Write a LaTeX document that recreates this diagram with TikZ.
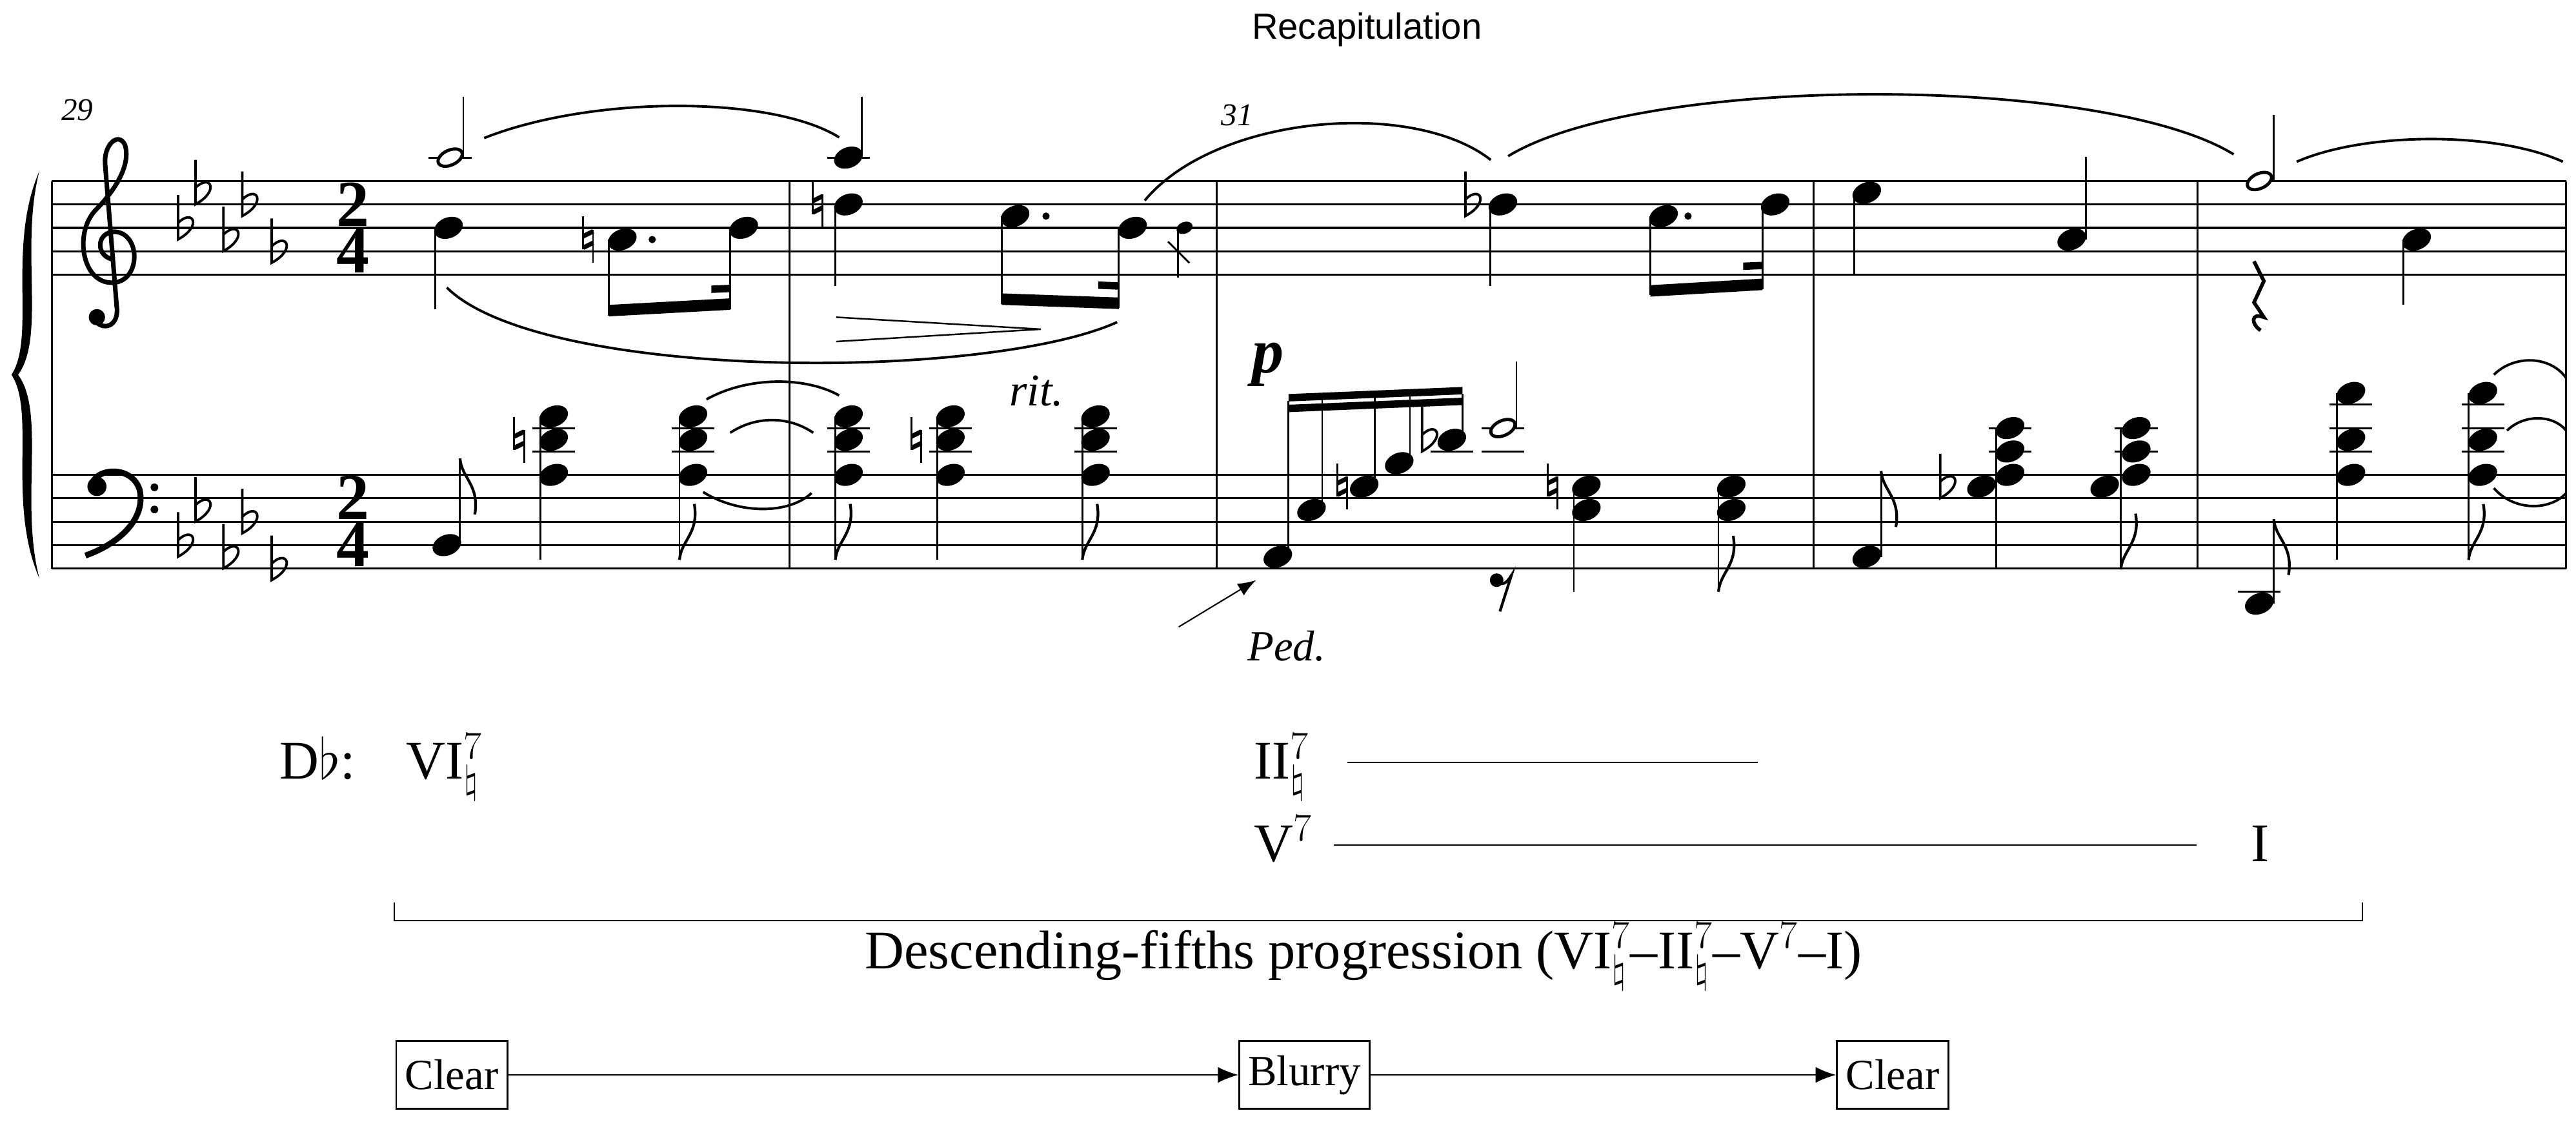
\documentclass[tikz,border=0pt]{standalone}
\usepackage{fontspec}
\setmainfont{Liberation Serif}
\newfontfamily\sansfont{Liberation Sans}
\usetikzlibrary{arrows.meta}
\tikzstyle{staffLine}=[line width=0.9pt]
\tikzstyle{stem}=[line width=0.8pt]
\tikzstyle{slur}=[line width=1.1pt]
\tikzstyle{figText}=[font=\fontsize{24}{28}\selectfont, inner sep=0pt]
\tikzstyle{timeSig}=[inner sep=0pt, align=center, font=\bfseries\fontsize{29}{20.7}\selectfont]
\tikzstyle{stateBox}=[draw, line width=0.7pt, font=\fontsize{19}{22}\selectfont, inner sep=4pt, minimum height=1.05cm]
\tikzstyle{stateTransition}=[-{Latex[length=9pt,width=7pt]}, line width=0.6pt]
\newcommand\ty[1]{167.1-7.12*(#1)}
\newcommand\by[1]{345.9-7.12*(#1)}
\newcommand\nh[2]{\fill[rotate around={22:(#1,{#2})}] (#1,{#2}) ellipse [x radius=0.23cm, y radius=0.16cm];}
\newcommand\hn[2]{\filldraw[fill=white,line width=1.4pt,rotate around={25:(#1,{#2})}] (#1,{#2}) ellipse [x radius=0.2cm, y radius=0.115cm];}
\newcommand\ldg{}
\renewcommand\ldg[2]{\draw[line width=0.9pt] (#1-13,{#2}) -- (#1+13,{#2});}
\newcommand\flt[2]{\draw[line width=1.1pt] (#1-4,{#2-20}) -- (#1-4,{#2+7}) .. controls (#1+11,{#2-1}) and (#1+5,{#2-12}) .. (#1-4,{#2-3});}
\newcommand\ntl[2]{\draw[line width=0.8pt] (#1-3,{#2-14}) -- (#1-3,{#2+6}) (#1+3,{#2-6}) -- (#1+3,{#2+14});
  \draw[line width=2pt] (#1-3,{#2-2}) -- (#1+3,{#2-5}) (#1-3,{#2+5}) -- (#1+3,{#2+2});}
\newcommand\flagUp[2]{\draw[line width=1.2pt] (#1,#2) .. controls (#1+1,#2+12) and (#1+12,#2+16) .. (#1+9,#2+34);}
\newcommand\flagDn[2]{\draw[line width=1.2pt] (#1,#2) .. controls (#1+1,#2-12) and (#1+12,#2-16) .. (#1+9,#2-34);}
\newcommand\beam[5]{\fill (#1,#2-#5/2) -- (#3,#4-#5/2) -- (#3,#4+#5/2) -- (#1,#2+#5/2) -- cycle;}

\begin{document}
\begin{tikzpicture}[x=0.02546cm, y=-0.02546cm]
	\useasboundingbox (0,0) rectangle (1568,682.6);
	% staves and barlines
	\foreach \p in {0,2,...,8} {
		\draw[staffLine] (31.6,{\ty{\p}}) -- (1562,{\ty{\p}});
		\draw[staffLine] (31.6,{\by{\p}}) -- (1562,{\by{\p}});
	}
	\foreach \x in {31.6,480.5,740.5,1104,1337.6,1562}
		\draw[staffLine] (\x,110.2) -- (\x,345.9);
	\fill (24,104) .. controls (4,150) and (22,205) .. (7,228) .. controls (22,251) and (4,306) .. (24,352)
		.. controls (12,306) and (28,251) .. (11,228) .. controls (28,205) and (12,150) .. (24,104);

	% clefs, key and time
	\fill (59,193) circle (3.6pt);
	\draw[line width=2pt] (57,194) .. controls (62,202) and (73,199) .. (71,186) -- (64,100)
		.. controls (63,88) and (72,80) .. (76,88) .. controls (80,100) and (70,116) .. (58,128)
		.. controls (45,142) and (50,172) .. (68,172) .. controls (86,172) and (86,142) .. (70,141)
		.. controls (58,141) and (58,157) .. (70,158);
	\fill (59,296) circle (4.2pt);
	\draw[line width=2.6pt] (56,296) .. controls (56,285) and (80,282) .. (85,298) .. controls (89,316) and (72,331) .. (52,338);
	\fill (94,296.5) circle (1.7pt) (94,310) circle (1.7pt);
	\foreach \x/\p in {112.4/4,123/7,140/3,151.5/6,169.4/2} \flt{\x}{\ty{\p}};
	\foreach \x/\p in {112.4/2,123/5,140/1,151.5/4,169.4/0} \flt{\x}{\by{\p}};
	\node[timeSig] (trebleTime) at (215,138.6) {2\\4};
	\node[timeSig] (bassTime) at (215,317.2) {2\\4};

	% treble, bars 29-30
	\nh{273}{\ty{4}} \draw[stem] (265,{\ty{4}}) -- (265,188);
	\ldg{274}{\ty{10}} \hn{274}{\ty{10}} \draw[stem] (282,{\ty{10}}) -- (282,59);
	\ntl{358}{\ty{3}} \nh{378.8}{\ty{3}} \fill (397,{\ty{3}}) circle (1.6pt);
	\draw[stem] (370.6,{\ty{3}}) -- (370.6,192);
	\nh{452.7}{\ty{4}} \draw[stem] (444.5,{\ty{4}}) -- (444.5,188);
	\beam{370.6}{189}{444.5}{185}{7} \beam{433}{176}{444.5}{175.5}{4.5}
	\ntl{497.6}{\ty{6}} \nh{516.4}{\ty{6}} \draw[stem] (508.5,{\ty{6}}) -- (508.5,174);
	\ldg{516.4}{\ty{10}} \nh{516.4}{\ty{10}} \draw[stem] (524.5,{\ty{10}}) -- (524.5,59);
	\nh{617.9}{\ty{5}} \fill (636.7,{\ty{5}}) circle (1.6pt);
	\draw[stem] (609.7,{\ty{5}}) -- (609.7,185);
	\nh{689.4}{\ty{4}} \draw[stem] (681,{\ty{4}}) -- (681,187.4);
	\beam{609.7}{182}{681}{184.5}{7} \beam{668.5}{173.5}{681}{174}{4.5}
	\fill[rotate around={22:(721,{\ty{4}})}] (721,{\ty{4}}) ellipse [x radius=0.13cm, y radius=0.09cm];
	\draw[stem] (717,{\ty{4}}) -- (717,169);
	\draw[stem] (711,147) -- (724,160);
	% treble, bars 31-33
	\flt{896}{\ty{6}} \nh{914.8}{\ty{6}} \draw[stem] (907,{\ty{6}}) -- (907,174);
	\nh{1012.6}{\ty{5}} \fill (1027.5,{\ty{5}}) circle (1.6pt);
	\draw[stem] (1004.6,{\ty{5}}) -- (1004.6,179.5);
	\nh{1080.5}{\ty{6}} \draw[stem] (1072.8,{\ty{6}}) -- (1072.8,176);
	\beam{1004.6}{177}{1072.8}{173}{7} \beam{1061}{162}{1072.8}{161.5}{4.5}
	\nh{1136.3}{\ty{7}} \draw[stem] (1128.6,{\ty{7}}) -- (1128.6,166.5);
	\nh{1261}{\ty{3}} \draw[stem] (1269.6,{\ty{3}}) -- (1269.6,95.4);
	\hn{1375.3}{\ty{8}} \draw[stem] (1384,{\ty{8}}) -- (1384,69.8);
	\draw[line width=1.6pt] (1372,159) -- (1378,171) -- (1372,184) -- (1378,193) .. controls (1370,190) and (1370,197) .. (1376,201);
	\nh{1471}{\ty{3}} \draw[stem] (1462.8,{\ty{3}}) -- (1462.8,185.2);
	% treble slurs
	\draw[slur] (294.7,84) .. controls (360,58) and (470,58) .. (510.8,83.6);
	\draw[slur] (272,175) .. controls (330,232) and (600,232) .. (680,196);
	\draw[slur] (696.8,122) .. controls (740,70) and (860,60) .. (907.4,97.3);
	\draw[slur] (918,95) .. controls (1000,45) and (1280,45) .. (1359.6,93.9);
	\draw[slur] (1398,98.4) .. controls (1440,80) and (1520,80) .. (1560,98.4);
	\draw[line width=0.7pt] (509,193) -- (633.6,200.3) -- (509,207.8);

	% bass, bars 29-30
	\nh{272}{\by{2}} \draw[stem] (280,{\by{2}}) -- (280,279); \flagUp{280}{279}
	\foreach \x/\s/\f in {337/329/0,421.8/413.6/1,516.5/508.5/1,578.5/570.5/0,666.8/658.8/1} {
		\ldg{\x}{\by{10}} \ldg{\x}{\by{12}}
		\nh{\x}{\by{8}} \nh{\x}{\by{11}} \nh{\x}{\by{13}}
		\draw[stem] (\s,{\by{13}}) -- (\s,340.6);
		\ifnum\f=1 \flagDn{\s}{340.6} \fi
	}
	\ntl{316}{\by{11}} \ntl{557.8}{\by{11}}
	\draw[slur] (430,243) .. controls (455,229) and (490,229) .. (510.8,240.6);
	\draw[slur] (444.5,263.3) .. controls (460,253) and (480,253) .. (495,263.3);
	\draw[slur] (428,299.4) .. controls (450,313) and (480,313) .. (494,300);
	% bass, bar 31
	\foreach \x/\p in {777.8/1,798.3/5,830.4/7,851.7/9,883.7/11} {
		\nh{\x}{\by{\p}}
		\draw[stem] (\x+6.5,{\by{\p}}) -- (\x+6.5,{244-4.3*(\x-777.8)/106});
	}
	\ldg{883.7}{\by{10}} \ntl{817}{\by{7}} \flt{869.6}{\by{11}}
	\beam{784.3}{242}{890.2}{237.7}{4.5} \beam{784.3}{248.5}{890.2}{244.2}{4.5}
	\ldg{914.8}{\by{10}} \ldg{914.8}{\by{12}} \hn{914.8}{\by{12}}
	\draw[stem] (923,{\by{12}}) -- (923,220);
	\fill (911,353) circle (3pt); \draw[line width=1.2pt] (911,353) .. controls (914,357) and (917,355) .. (920,350) -- (913,372);
	\ntl{945}{\by{7}}
	\foreach \x/\s/\f in {965.6/958/0,1053.8/1046/1} {
		\nh{\x}{\by{7}} \nh{\x}{\by{5}}
		\draw[stem] (\s,{\by{7}}) -- (\s,360);
		\ifnum\f=1 \flagDn{\s}{360} \fi
	}
	% bass, bars 32-33
	\nh{1136.3}{\by{1}} \draw[stem] (1145,{\by{1}}) -- (1145,286.6); \flagUp{1145}{286.6}
	\flt{1185}{\by{7}}
	\foreach \l/\r/\s/\f in {1206.1/1223.5/1215.2/0,1281.1/1300.3/1290.9/1} {
		\ldg{\r}{\by{10}} \ldg{\r}{\by{12}}
		\nh{\l}{\by{7}} \nh{\r}{\by{8}} \nh{\r}{\by{10}} \nh{\r}{\by{12}}
		\draw[stem] (\s,{\by{12}}) -- (\s,346.5);
		\ifnum\f=1 \flagDn{\s}{346.5} \fi
	}
	\ldg{1375.2}{\by{-2}} \nh{1375.2}{\by{-3}}
	\draw[stem] (1384,{\by{-3}}) -- (1384,315.8); \flagUp{1384}{315.8}
	\foreach \x/\s/\f in {1431/1422.3/0,1511.3/1502.6/1} {
		\ldg{\x}{\by{10}} \ldg{\x}{\by{12}} \ldg{\x}{\by{14}}
		\nh{\x}{\by{8}} \nh{\x}{\by{11}} \nh{\x}{\by{15}}
		\draw[stem] (\s,{\by{15}}) -- (\s,340.7);
		\ifnum\f=1 \flagDn{\s}{340.7} \fi
	}
	\draw[slur] (1518,228) .. controls (1530,216) and (1552,216) .. (1562,230);
	\draw[slur] (1526,262) .. controls (1536,252) and (1554,252) .. (1562,262);
	\draw[slur] (1518,297) .. controls (1530,311) and (1552,311) .. (1562,300);

	% marks
	\node[font=\sansfont\fontsize{16}{18}\selectfont] (recap) at (832,18) {Recapitulation};
	\node[font=\itshape\fontsize{14}{16}\selectfont] (m29) at (47,67) {29};
	\node[font=\itshape\fontsize{14}{16}\selectfont] (m31) at (753,70) {31};
	\node[font=\itshape\fontsize{20}{22}\selectfont] (rit) at (631,238) {rit.};
	\node[font=\bfseries\itshape\fontsize{28}{30}\selectfont] (dyn) at (772,222) {p};
	\node[font=\itshape\fontsize{19}{22}\selectfont] (ped) at (783,393) {Ped.};
	\coordinate (pedTail) at (717.5,381.4);
	\coordinate (pedTip) at (764.5,353);
	\draw[-{Latex[length=8pt,width=6pt]}, line width=0.6pt] (pedTail) -- (pedTip);

	% analysis
	\node[figText, anchor=base west] (key) at (170,474) {D$\flat$:};
	\node[figText, anchor=base west] (six) at (247,474) {VI$^{7}_{\natural}$};
	\node[figText, anchor=base west] (two) at (763,474) {II$^{7}_{\natural}$};
	\node[figText, anchor=base west] (five) at (763,524) {V$^{7}$};
	\node[figText, anchor=base west] (one) at (1370,524) {I};
	\draw[line width=0.6pt] (820,464) -- (1070,464);
	\draw[line width=0.6pt] (812,514) -- (1337,514);
	\draw[line width=0.6pt] (240,549) -- (240,560) -- (1438,560) -- (1438,549);
	\node[figText] (desc) at (830,582) {Descending-fifths progression (VI$^{7}_{\natural}$--II$^{7}_{\natural}$--V$^{7}$--I)};

	\node[stateBox] (clearA) at (275,654) {Clear};
	\node[stateBox] (blurry) at (794,654) {Blurry};
	\node[stateBox] (clearB) at (1152,654) {Clear};
	\draw[stateTransition] (clearA) -- (blurry);
	\draw[stateTransition] (blurry) -- (clearB);
\end{tikzpicture}
\end{document}
